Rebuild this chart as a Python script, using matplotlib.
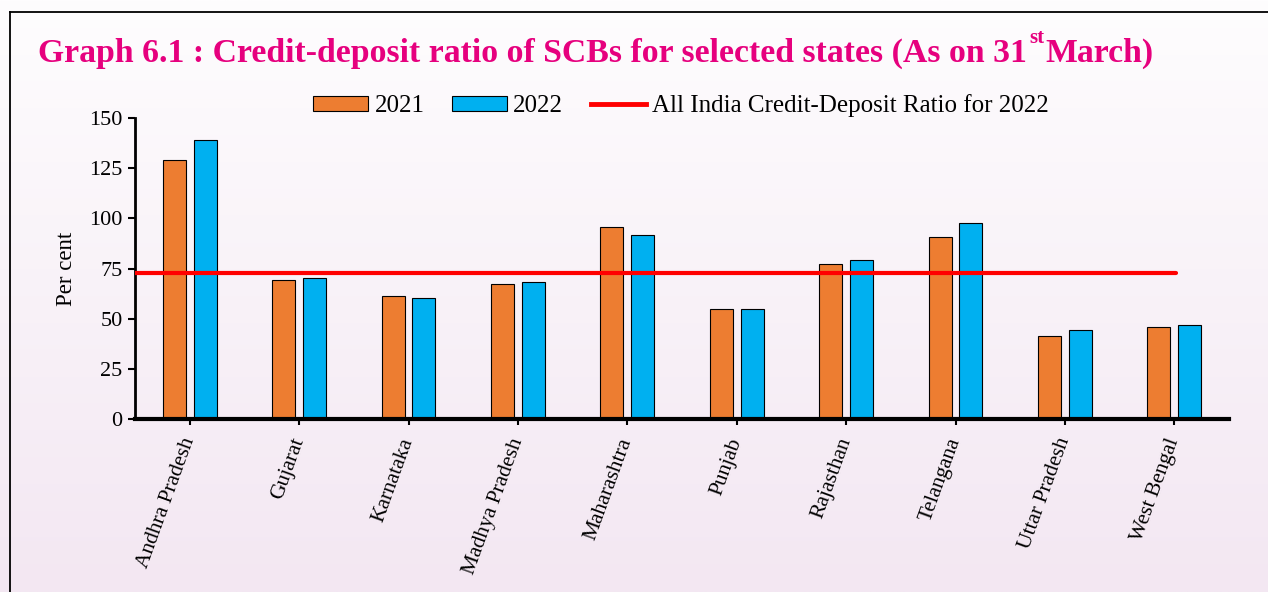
import numpy as np
import matplotlib
matplotlib.use("Agg")
import matplotlib.pyplot as plt
from matplotlib.lines import Line2D
from matplotlib.patches import Patch

states = ["Andhra Pradesh", "Gujarat", "Karnataka", "Madhya Pradesh", "Maharashtra",
          "Punjab", "Rajasthan", "Telangana", "Uttar Pradesh", "West Bengal"]
cd_2021 = [129.3, 69.2, 61.3, 67.3, 95.5, 54.6, 77.1, 90.7, 41.2, 46.0]
cd_2022 = [139.0, 70.2, 60.4, 68.3, 91.5, 54.6, 79.1, 97.5, 44.2, 47.0]
all_india_2022 = 72.6
yticks = [0, 25, 50, 75, 100, 125, 150]

plt.rcParams['font.family'] = ['Liberation Serif', 'DejaVu Serif']

fig = plt.figure(figsize=(12.68, 5.92), dpi=100)

# background gradient
bg = fig.add_axes([0, 0, 1, 1], zorder=-10)
top = np.array([254, 253, 254]) / 255
bot = np.array([243, 231, 242]) / 255
t = np.linspace(0, 1, 256)[:, None]
grad = top[None, :] * (1 - t) + bot[None, :] * t
img = np.repeat(grad[:, None, :], 4, axis=1)
bg.imshow(img, aspect='auto', extent=[0, 1, 0, 1], origin='upper')
bg.set_xlim(0, 1); bg.set_ylim(0, 1)
bg.axis('off')
W, H = 1268, 592
bg.plot([10 / W, 10 / W], [0, 1 - 12 / H], color='black', lw=1.3)
bg.plot([10 / W, 1], [1 - 12 / H, 1 - 12 / H], color='black', lw=1.3)

ax = fig.add_axes([135 / W, 1 - 419 / H, (1229 - 135) / W, (419 - 118) / H])
ax.set_facecolor('none')

x = np.arange(len(states))
w = 0.21
off = 0.14
ax.bar(x - off, cd_2021, width=w, color='#ED7D31', edgecolor='black', linewidth=0.8, zorder=2)
ax.bar(x + off, cd_2022, width=w, color='#00B0F0', edgecolor='black', linewidth=0.8, zorder=2)
ax.plot([-0.5, 9.02], [all_india_2022, all_india_2022], color='#FF0000', lw=3, zorder=3,
        solid_capstyle='round')

ax.set_xlim(-0.5, 9.5)
ax.set_ylim(0, 150)
ax.set_yticks(yticks)
ax.set_yticklabels([str(v) for v in yticks], fontsize=16)
ax.set_xticks(x)
ax.set_xticklabels(states, rotation=70, ha='right', va='center', rotation_mode='anchor',
                   fontsize=15.5)
ax.tick_params(axis='x', length=4, width=1.5, pad=10)
ax.tick_params(axis='y', length=5, width=1.5, pad=4)
for s in ['top', 'right']:
    ax.spines[s].set_visible(False)
ax.spines['left'].set_linewidth(2)
ax.spines['bottom'].set_linewidth(3)
ax.set_ylabel('Per cent', fontsize=16.5, labelpad=9)

handles = [Patch(facecolor='#ED7D31', edgecolor='black', linewidth=0.8),
           Patch(facecolor='#00B0F0', edgecolor='black', linewidth=0.8),
           Line2D([0], [0], color='#FF0000', lw=3.5)]
fig.legend(handles, ['2021', '2022', 'All India Credit-Deposit Ratio for 2022'],
           loc='center', bbox_to_anchor=(681 / W, 1 - 106 / H), ncol=3, frameon=False,
           fontsize=18, handlelength=2.2, handleheight=0.56, handletextpad=0.25,
           columnspacing=1.1)

# title with superscript
magenta = '#E6007E'
fig.canvas.draw()
r = fig.canvas.get_renderer()
tx, ty = 38 / W, 1 - 62 / H
t1 = fig.text(tx, ty, 'Graph 6.1 : Credit-deposit ratio of SCBs for selected states (As on 31',
              fontsize=24.3, fontweight='bold', color=magenta, va='baseline', ha='left')
bb = t1.get_window_extent(r)
t2 = fig.text(bb.x1 / W + 2 / W, ty + 19 / H, 'st', fontsize=15, fontweight='bold',
              color=magenta, va='baseline', ha='left')
bb2 = t2.get_window_extent(r)
fig.text(bb2.x1 / W + 1 / W, ty, 'March)', fontsize=24.3, fontweight='bold', color=magenta,
         va='baseline', ha='left')

fig.savefig('out.png', dpi=100)
